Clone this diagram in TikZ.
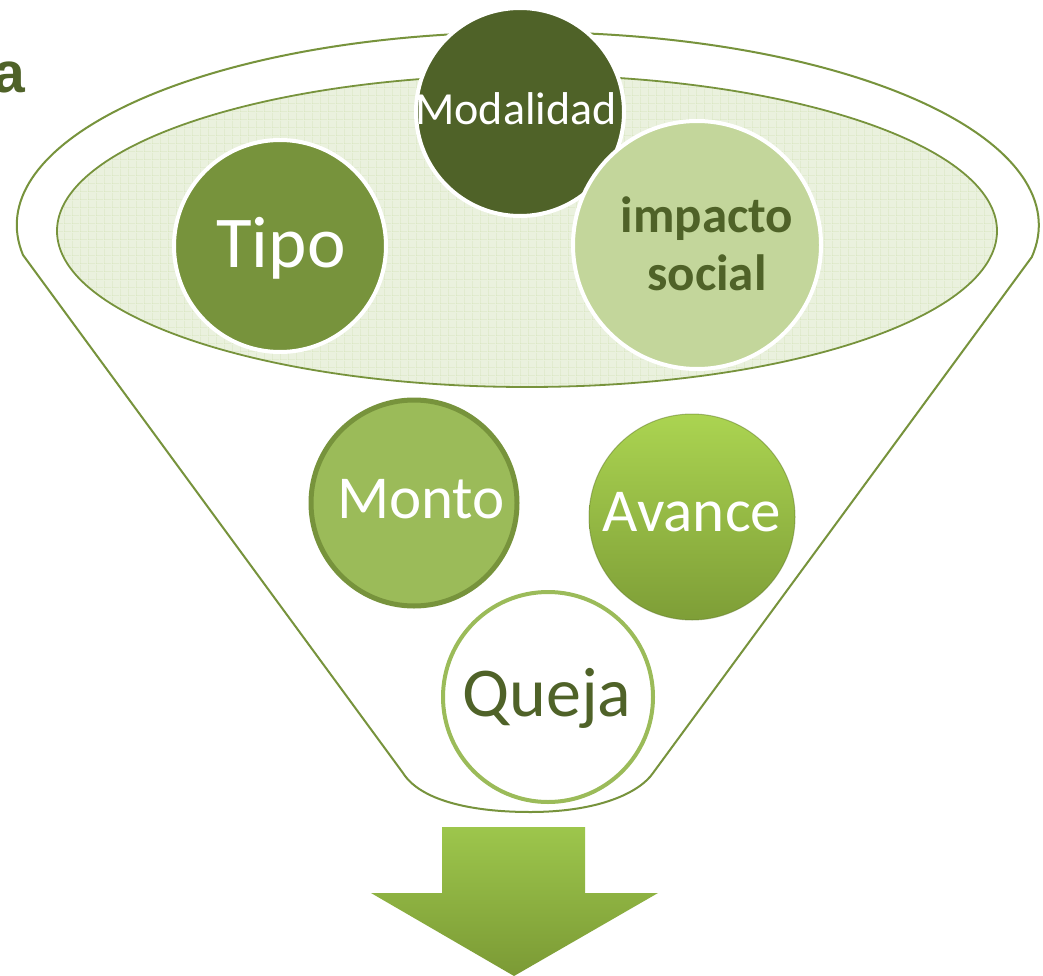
\documentclass[tikz,border=0pt]{standalone}
\usepackage{fontspec}
\setmainfont{Carlito}
\newfontfamily\arialfont{Liberation Sans}
\usetikzlibrary{patterns}
\definecolor{olive}{HTML}{77933C}
\definecolor{darkolive}{HTML}{4F6228}
\definecolor{midgreen}{HTML}{9BBB59}
\definecolor{lightgreen}{HTML}{C3D69B}
\definecolor{gridbg}{HTML}{EAF1DE}
\definecolor{gridline}{HTML}{D2E2B4}
\definecolor{avtop}{HTML}{ABD451}
\definecolor{avbot}{HTML}{7E9E37}
\definecolor{artop}{HTML}{9DC64C}
\definecolor{arbot}{HTML}{7B9A35}
\pgfdeclarepatternformonly{mygrid}{\pgfpointorigin}{\pgfpoint{8pt}{8pt}}{\pgfpoint{8pt}{8pt}}{%
  \pgfsetlinewidth{0.9pt}%
  \pgfpathmoveto{\pgfpoint{0pt}{0pt}}\pgfpathlineto{\pgfpoint{8pt}{0pt}}%
  \pgfpathmoveto{\pgfpoint{0pt}{0pt}}\pgfpathlineto{\pgfpoint{0pt}{8pt}}%
  \pgfusepath{stroke}}
\tikzset{
  funnelline/.style={draw=olive, line width=2pt, line join=round},
  ball/.style={circle, inner sep=0pt, draw=white, line width=4pt},
  lbl/.style={anchor=base, inner sep=0pt, text=white},
}
\begin{document}
\begin{tikzpicture}[x=1pt,y=1pt]
\fill[white] (0,0) rectangle (1043,-976);
\useasboundingbox (0,0) rectangle (1043,-976);
% clipped heading letter
\node[anchor=base west, inner sep=0pt, text=darkolive, font=\arialfont\bfseries\fontsize{57}{60}\selectfont] (hdr) at (-7,-93) {a};
% funnel outline
\draw[funnelline] (23,-255) arc[start angle=188.9, end angle=-9.5, x radius=511pt, y radius=193pt]
  -- (653,-773) .. controls (640,-792) and (600,-812) .. (530,-812)
  .. controls (470,-812) and (420,-800) .. (403,-773) -- cycle;
% inner shaded ellipse
\fill[gridbg] (527,-231) ellipse[x radius=470pt, y radius=156pt];
\fill[pattern=mygrid, pattern color=gridline] (527,-231) ellipse[x radius=470pt, y radius=156pt];
\draw[draw=olive, line width=1.8pt] (527,-231) ellipse[x radius=470pt, y radius=156pt];
% circles
\node[ball, fill=olive, minimum size=212pt] (tipo) at (280,-246) {};
\node[ball, fill=darkolive, minimum size=208pt] (moda) at (520,-112) {};
\node[ball, fill=lightgreen, minimum size=248pt] (impa) at (697,-245) {};
\node[circle, inner sep=0pt, fill=midgreen, draw=olive, line width=5pt, minimum size=206pt] (monto) at (414,-503) {};
\node[circle, inner sep=0pt, top color=avtop, bottom color=avbot, minimum size=206pt] (avance) at (692,-517) {};
\draw[avbot!80!black, line width=1pt, opacity=0.5] (avance.center) circle[radius=103pt];
\node[circle, inner sep=0pt, fill=white, draw=midgreen, line width=4pt, minimum size=210pt] (queja) at (548,-697) {};
% labels
\node[lbl, font=\fontsize{73}{80}\selectfont] (tTipo) at (281,-267) {Tipo};
\node[lbl, font=\fontsize{46}{50}\selectfont] (tModa) at (516,-125) {Modalidad};
\node[lbl, text=darkolive, font=\bfseries\fontsize{51}{56}\selectfont] (tImp) at (707,-233) {impacto};
\node[lbl, text=darkolive, font=\bfseries\fontsize{51}{56}\selectfont] (tSoc) at (707,-290) {social};
\node[lbl, font=\fontsize{61}{66}\selectfont] (tMonto) at (421,-518) {Monto};
\node[lbl, font=\fontsize{61}{66}\selectfont] (tAv) at (692,-531) {Avance};
\node[lbl, text=darkolive, font=\fontsize{70}{76}\selectfont] (tQueja) at (547,-716) {Queja};
% arrow
\shade[top color=artop, bottom color=arbot]
  (442,-827) -- (585,-827) -- (585,-893) -- (658,-893) -- (514,-976)
  -- (371,-893) -- (442,-893) -- cycle;
\end{tikzpicture}
\end{document}
